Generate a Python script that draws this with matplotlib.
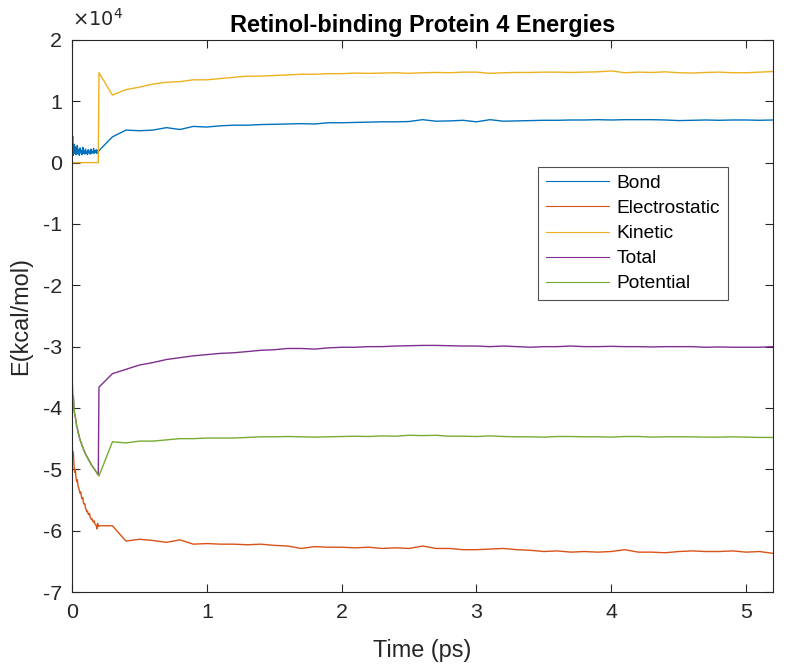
import matplotlib
matplotlib.use('Agg')
import matplotlib.pyplot as plt
import numpy as np

plt.rcParams['font.family'] = ['Liberation Sans', 'DejaVu Sans']
plt.rcParams['axes.unicode_minus'] = False

# time grid: dense start (0-0.2 ps), then every 0.1 ps
t_early = np.linspace(0, 0.2, 41)
t_late = np.round(np.arange(0.3, 5.25, 0.1), 2)

# energies in units of 1e4 kcal/mol
bond_early = [0.25, 0.43, 0.12, 0.30, 0.15, 0.26, 0.13, 0.22, 0.28, 0.14,
              0.21, 0.12, 0.24, 0.16, 0.20, 0.13, 0.25, 0.15, 0.19, 0.14,
              0.22, 0.15, 0.18, 0.13, 0.21, 0.16, 0.19, 0.14, 0.22, 0.15,
              0.18, 0.16, 0.23, 0.15, 0.19, 0.17, 0.21, 0.15, 0.20, 0.17, 0.196]
bond_late = [0.42, 0.53, 0.52, 0.53, 0.57, 0.54, 0.59, 0.58, 0.60, 0.61,
             0.61, 0.62, 0.625, 0.63, 0.635, 0.63, 0.65, 0.65, 0.655, 0.66,
             0.665, 0.665, 0.67, 0.70, 0.675, 0.68, 0.69, 0.665, 0.70, 0.675,
             0.68, 0.685, 0.69, 0.69, 0.695, 0.695, 0.70, 0.695, 0.70, 0.70,
             0.70, 0.695, 0.685, 0.69, 0.695, 0.69, 0.695, 0.695, 0.69, 0.695]

elec_early = [-4.48, -4.80, -4.72, -4.95, -5.05, -5.00, -5.15, -5.20, -5.17, -5.28,
              -5.30, -5.35, -5.39, -5.37, -5.45, -5.48, -5.46, -5.55, -5.57, -5.56,
              -5.63, -5.66, -5.69, -5.68, -5.73, -5.74, -5.72, -5.78, -5.80, -5.82,
              -5.81, -5.85, -5.86, -5.84, -5.89, -5.90, -5.92, -5.97, -5.88, -5.93, -5.92]
elec_late = [-5.92, -6.17, -6.14, -6.16, -6.19, -6.15, -6.22, -6.21, -6.22, -6.22,
             -6.23, -6.22, -6.24, -6.25, -6.29, -6.26, -6.27, -6.27, -6.28, -6.27,
             -6.29, -6.28, -6.29, -6.25, -6.29, -6.29, -6.31, -6.31, -6.30, -6.29,
             -6.31, -6.32, -6.34, -6.33, -6.35, -6.34, -6.35, -6.34, -6.31, -6.35,
             -6.35, -6.36, -6.34, -6.33, -6.34, -6.34, -6.33, -6.35, -6.34, -6.37]

kin_early = [0.0] * 40 + [1.467]
kin_late = [1.10, 1.19, 1.23, 1.28, 1.31, 1.32, 1.35, 1.35, 1.37, 1.39,
            1.41, 1.41, 1.42, 1.43, 1.44, 1.44, 1.45, 1.45, 1.46, 1.455,
            1.46, 1.465, 1.455, 1.465, 1.47, 1.465, 1.475, 1.475, 1.455, 1.465,
            1.47, 1.47, 1.475, 1.475, 1.47, 1.475, 1.48, 1.495, 1.465, 1.475,
            1.47, 1.48, 1.465, 1.46, 1.47, 1.475, 1.465, 1.465, 1.475, 1.485]

pot_early = [-3.35, -3.85, -3.80, -4.02, -4.10, -4.15, -4.22, -4.30, -4.33, -4.40,
             -4.43, -4.48, -4.52, -4.55, -4.58, -4.62, -4.64, -4.67, -4.70, -4.72,
             -4.75, -4.77, -4.79, -4.81, -4.83, -4.85, -4.87, -4.89, -4.91, -4.93,
             -4.94, -4.96, -4.98, -4.99, -5.01, -5.03, -5.04, -5.06, -5.08, -5.09, -5.11]
pot_late = [-4.55, -4.57, -4.54, -4.54, -4.52, -4.50, -4.50, -4.49, -4.49, -4.49,
            -4.48, -4.47, -4.47, -4.465, -4.47, -4.475, -4.47, -4.465, -4.46, -4.465,
            -4.455, -4.46, -4.445, -4.45, -4.445, -4.46, -4.46, -4.465, -4.455, -4.465,
            -4.47, -4.47, -4.475, -4.465, -4.465, -4.47, -4.47, -4.475, -4.465, -4.465,
            -4.475, -4.47, -4.47, -4.47, -4.475, -4.475, -4.47, -4.475, -4.48, -4.48]

total_early = pot_early[:40] + [-3.66]
total_late = [-3.44, -3.37, -3.30, -3.26, -3.21, -3.18, -3.15, -3.13, -3.11, -3.10,
              -3.08, -3.06, -3.05, -3.03, -3.03, -3.04, -3.02, -3.01, -3.01, -3.00,
              -3.00, -2.99, -2.985, -2.98, -2.98, -2.985, -2.99, -2.99, -3.00, -2.99,
              -3.00, -3.01, -3.00, -3.00, -2.99, -3.00, -3.00, -2.995, -3.00, -3.00,
              -3.005, -3.00, -3.00, -3.00, -3.01, -3.005, -3.01, -3.01, -3.01, -3.00]

labels = ['Bond', 'Electrostatic', 'Kinetic', 'Total', 'Potential']
colors = ['#0072BD', '#D95319', '#EDB120', '#7E2F8E', '#77AC30']
series = [(bond_early, bond_late), (elec_early, elec_late), (kin_early, kin_late),
          (total_early, total_late), (pot_early, pot_late)]

t = np.concatenate([t_early, t_late])

fig = plt.figure(figsize=(7.86, 6.70), dpi=100)
ax = fig.add_axes([0.0916, 0.1164, 0.892, 0.824])

for (early, late), lab, col in zip(series, labels, colors):
    y = np.concatenate([early, late]) * 1e4
    ax.plot(t, y, color=col, lw=1.0, label=lab)

ax.set_xlim(0, 5.2)
ax.set_ylim(-7e4, 2e4)
yt = np.arange(-7, 3)
ax.set_yticks(yt * 1e4)
ax.set_yticklabels([str(v) for v in yt])
ax.set_xticks([0, 1, 2, 3, 4, 5])

axc = '#262626'
for s in ax.spines.values():
    s.set_color(axc)
    s.set_linewidth(0.8)
ax.tick_params(direction='in', length=6, width=0.8, colors=axc,
               labelsize=15.4, top=True, right=True, labelcolor=axc)
ax.tick_params(axis='x', pad=8)
ax.tick_params(axis='y', pad=7)

ax.text(0.0, 1.025, r'$\times10^4$', transform=ax.transAxes, fontsize=14,
        color=axc, ha='left', va='baseline')
ax.set_title('Retinol-binding Protein 4 Energies', fontsize=16.9,
             fontweight='bold', pad=6)
ax.set_xlabel('Time (ps)', fontsize=16.9, color=axc, labelpad=12)
ax.set_ylabel('E(kcal/mol)', fontsize=16.9, color=axc, labelpad=8)

leg = ax.legend(loc='upper left', bbox_to_anchor=(538 / 786, 1 - 167 / 670),
                bbox_transform=fig.transFigure, fontsize=13.8, frameon=True,
                fancybox=False, handlelength=3.3, labelspacing=0.4,
                borderpad=0.4, handletextpad=0.4, borderaxespad=0)
leg.get_frame().set_edgecolor(axc)
leg.get_frame().set_linewidth(0.8)
for line in leg.get_lines():
    line.set_linewidth(0.8)

fig.savefig('out.png', dpi=100)
